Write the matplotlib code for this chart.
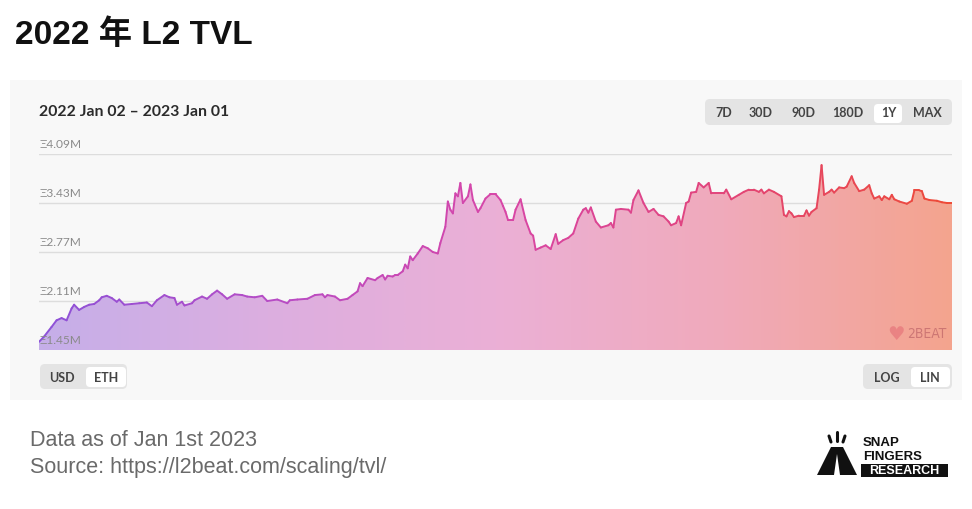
import matplotlib
matplotlib.use("Agg")
import matplotlib.pyplot as plt
import numpy as np
from matplotlib.collections import LineCollection
from matplotlib.colors import LinearSegmentedColormap
from matplotlib.patches import FancyBboxPatch, Rectangle, Polygon

# day of year (0 = 2022 Jan 02) and TVL in million ETH
days = [0, 2, 5, 7, 9, 11, 13, 14, 16, 18, 20, 22, 24, 25, 27, 29, 31, 32, 34, 37,
        40, 43, 45, 47, 50, 52, 54, 55, 57, 58, 61, 62, 65, 67, 69, 71, 73, 75, 78, 81,
        83, 86, 89, 91, 95, 99, 100, 103, 107, 110, 113, 114, 115, 118, 120, 123, 125, 127, 128, 129,
        131, 134, 135, 137, 138, 139, 141, 142, 143, 145, 146, 147, 148, 149, 151, 153, 155, 157, 159, 160,
        162, 163, 164, 165, 166, 167, 168, 169, 171, 172, 173, 175, 176, 178, 180, 182, 184, 185, 186, 187,
        189, 190, 192, 194, 196, 197, 198, 200, 202, 204, 206, 207, 209, 211, 213, 215, 217, 218, 219, 220,
        222, 224, 227, 228, 229, 230, 232, 235, 236, 237, 239, 241, 243, 245, 247, 249, 251, 252, 254, 255,
        256, 258, 259, 260, 262, 263, 265, 267, 268, 272, 273, 274, 276, 279, 281, 283, 285, 287, 288, 289,
        291, 293, 296, 297, 298, 299, 300, 301, 303, 305, 306, 307, 308, 310, 311, 312, 313, 315, 316, 317,
        319, 321, 322, 324, 325, 327, 329, 331, 332, 333, 335, 336, 337, 339, 340, 341, 343, 346, 348, 349,
        351, 352, 353, 355, 358, 360, 362, 364]
tvl = [1.56, 1.63, 1.76, 1.85, 1.88, 1.85, 2.01, 2.06, 1.99, 2.03, 2.06, 2.07, 2.12, 2.16, 2.18, 2.15, 2.10, 2.13, 2.06, 2.07,
       2.08, 2.09, 2.04, 2.12, 2.19, 2.16, 2.15, 2.06, 2.10, 2.05, 2.08, 2.12, 2.17, 2.14, 2.20, 2.25, 2.20, 2.14, 2.20, 2.19,
       2.17, 2.16, 2.18, 2.11, 2.13, 2.08, 2.12, 2.13, 2.14, 2.19, 2.20, 2.16, 2.19, 2.17, 2.12, 2.14, 2.19, 2.24, 2.35, 2.31,
       2.42, 2.39, 2.42, 2.46, 2.40, 2.45, 2.44, 2.46, 2.46, 2.51, 2.60, 2.55, 2.71, 2.66, 2.75, 2.85, 2.82, 2.77, 2.75, 2.89,
       3.11, 3.45, 3.34, 3.29, 3.56, 3.52, 3.70, 3.43, 3.52, 3.68, 3.47, 3.31, 3.36, 3.49, 3.55, 3.55, 3.47, 3.39, 3.31, 3.20,
       3.20, 3.34, 3.48, 3.20, 3.02, 2.99, 2.80, 2.83, 2.86, 2.81, 3.01, 2.88, 2.93, 2.96, 3.02, 3.22, 3.34, 3.36, 3.30, 3.37,
       3.18, 3.10, 3.13, 3.16, 3.10, 3.34, 3.35, 3.34, 3.30, 3.47, 3.60, 3.43, 3.31, 3.35, 3.27, 3.25, 3.18, 3.13, 3.16, 3.25,
       3.13, 3.43, 3.45, 3.57, 3.58, 3.70, 3.64, 3.70, 3.56, 3.56, 3.56, 3.61, 3.48, 3.54, 3.58, 3.61, 3.61, 3.58, 3.61, 3.56,
       3.61, 3.58, 3.52, 3.27, 3.25, 3.32, 3.29, 3.24, 3.26, 3.26, 3.33, 3.26, 3.31, 3.36, 3.61, 3.94, 3.54, 3.58, 3.61, 3.57,
       3.64, 3.63, 3.65, 3.79, 3.70, 3.59, 3.61, 3.67, 3.56, 3.49, 3.52, 3.47, 3.52, 3.48, 3.54, 3.48, 3.45, 3.42, 3.46, 3.60,
       3.60, 3.59, 3.49, 3.47, 3.46, 3.44, 3.43, 3.43]
yticks = [1.45, 2.11, 2.77, 3.43, 4.09]
ranges = ["7D", "30D", "90D", "180D", "1Y", "MAX"]
range_x = [724, 761, 803, 848, 889, 927]

W, H = 972, 509
fig = plt.figure(figsize=(W / 100, H / 100), dpi=100)
fig.patch.set_facecolor("white")

# background layer in pixel coordinates
bg = fig.add_axes([0, 0, 1, 1])
bg.set_xlim(0, W)
bg.set_ylim(H, 0)
bg.axis("off")

bg.text(15, 35, "2022 年 L2 TVL", fontsize=24, fontweight="bold",
        family=["Liberation Sans", "Noto Sans CJK JP"], va="center", ha="left", color="#111")

bg.add_patch(Rectangle((10, 80), 952, 320, facecolor="#f8f8f8", edgecolor="none"))
bg.text(39, 112, "2022 Jan 02 – 2023 Jan 01", fontsize=11.3, fontweight="bold",
        family=["Lato", "DejaVu Sans"], va="center", color="#2b2b2b")

def pill(x, y, w, h, fc, r=5):
    bg.add_patch(FancyBboxPatch((x, y), w, h, boxstyle=f"round,pad=0,rounding_size={r}",
                                facecolor=fc, edgecolor="none", mutation_aspect=1))

btn_font = dict(fontsize=9, fontweight="bold", family=["Lato", "DejaVu Sans"],
                ha="center", va="center", color="#444")

# range buttons
pill(705, 99, 247, 26, "#e4e4e4")
pill(874, 104, 28, 19, "white", r=4)
for lab, x in zip(ranges, range_x):
    bg.text(x, 113, lab, **btn_font)

# currency / scale toggles
pill(40, 364, 87, 25, "#e4e4e4")
pill(86, 367, 40, 20, "white", r=4)
bg.text(62, 377.5, "USD", **btn_font)
bg.text(106, 377.5, "ETH", **btn_font)
pill(863, 364, 89, 25, "#e4e4e4")
pill(911, 367, 39, 20, "white", r=4)
bg.text(887, 377.5, "LOG", **btn_font)
bg.text(930, 377.5, "LIN", **btn_font)

# footer text
bg.text(30, 441, "Data as of Jan 1st 2023", fontsize=15.5, family="Liberation Sans",
        va="center", color="#6a6a6a")
bg.text(30, 468, "Source: https://l2beat.com/scaling/tvl/", fontsize=15.5, family="Liberation Sans",
        va="center", color="#6a6a6a")

# snap fingers logo
bg.add_patch(Polygon([(817, 475), (831, 447), (843, 447), (857, 475)], closed=True,
                     facecolor="#111", edgecolor="none"))
bg.add_patch(Polygon([(834, 475), (837, 454), (840, 475)], closed=True,
                     facecolor="white", edgecolor="none"))
for (x0, y0, x1, y1) in [(829, 436, 831, 442), (837, 432, 837, 441), (845, 436, 843, 442)]:
    bg.plot([x0, x1], [y0, y1], color="#111", lw=2.2, solid_capstyle="round")
bg.text(863, 443, "SNAP", fontsize=9.5, fontweight="bold", family="Liberation Sans",
        va="center", color="#111")
bg.text(863, 457, "FINGERS", fontsize=9.5, fontweight="bold", family="Liberation Sans",
        va="center", color="#111")
bg.add_patch(Rectangle((861, 464), 87, 13, facecolor="#111", edgecolor="none"))
bg.text(904.5, 470.5, "RESEARCH", fontsize=9, fontweight="bold", family="Liberation Sans",
        va="center", ha="center", color="white")

# chart
ax = fig.add_axes([39 / W, 1 - 350 / H, 913 / W, 196 / H])
ax.patch.set_alpha(0)
x = np.array(days, dtype=float)
y = np.array(tvl)
ax.set_xlim(0, 364)
ax.set_ylim(1.45, 4.09)
for s in ax.spines.values():
    s.set_visible(False)
ax.set_xticks([])
ax.set_yticks([])
for t in yticks:
    ax.axhline(t, color="#dddddd", lw=1, zorder=0)
    ax.annotate(f"Ξ{t:.2f}M", (0, t), xytext=(0, 6.5), textcoords="offset points",
                fontsize=8.6, color="#8a8a8a", va="center", ha="left",
                family=["Lato", "DejaVu Sans"], annotation_clip=False, zorder=5)

fill_cmap = LinearSegmentedColormap.from_list(
    "fill", ["#c5afe9", "#dcaee0", "#ebb0d6", "#f0aabb", "#f4a48e"])
line_cmap = LinearSegmentedColormap.from_list(
    "line", ["#8c52d8", "#b64cc6", "#d746a8", "#e2447a", "#ee4a36"])

grad = np.linspace(0, 1, 512).reshape(1, -1)
im = ax.imshow(grad, cmap=fill_cmap, extent=[0, 364, 1.45, 4.09], aspect="auto",
               origin="lower", zorder=1)
poly = ax.fill_between(x, y, 1.45, color="none")
clip = poly.get_paths()[0]
im.set_clip_path(clip, ax.transData)
poly.remove()

pts = np.column_stack([x, y]).reshape(-1, 1, 2)
segs = np.concatenate([pts[:-1], pts[1:]], axis=1)
lc = LineCollection(segs, cmap=line_cmap, norm=plt.Normalize(0, 364), linewidth=1.4,
                    capstyle="round", joinstyle="round", zorder=3)
lc.set_array((x[:-1] + x[1:]) / 2)
ax.add_collection(lc)

# watermark
ax.text(0.9485, 0.08, "♥", transform=ax.transAxes, fontsize=14, color="#e05a6a", alpha=0.45,
        ha="right", va="center", family="DejaVu Sans")
ax.text(0.951, 0.08, "2BEAT", transform=ax.transAxes, fontsize=10, color="#a04050", alpha=0.45,
        ha="left", va="center", family="DejaVu Sans", fontstretch="condensed")

fig.savefig("out.png", dpi=100)
